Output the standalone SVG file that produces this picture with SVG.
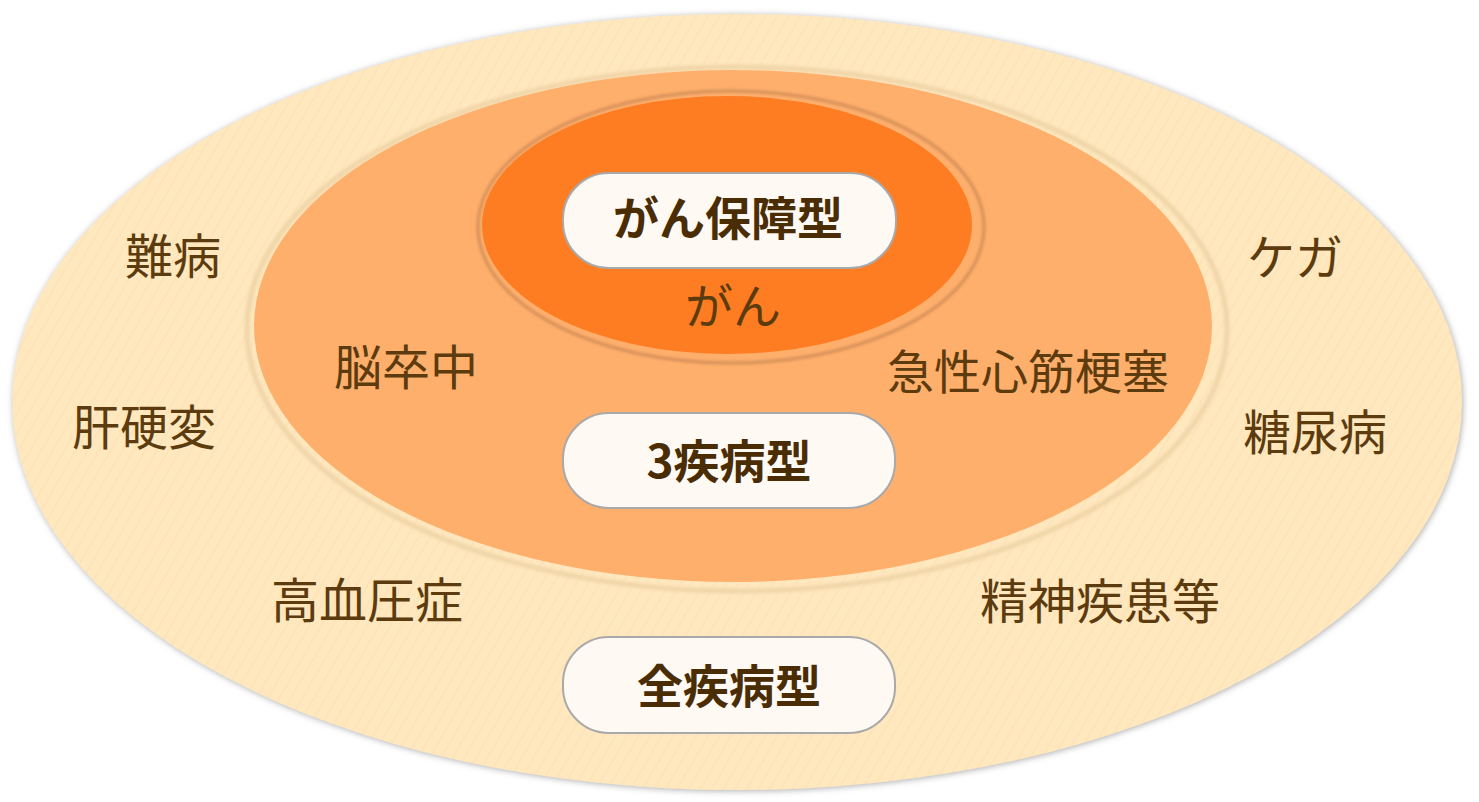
<svg xmlns="http://www.w3.org/2000/svg" width="1479" height="802" viewBox="0 0 1479 802">
<defs>
<filter id="shadow" x="-5%" y="-5%" width="110%" height="110%">
<feDropShadow dx="1" dy="1" stdDeviation="3" flood-color="#8a8a8a" flood-opacity="0.7"/>
</filter>
<filter id="blur1" x="-5%" y="-5%" width="110%" height="110%">
<feGaussianBlur stdDeviation="1.5"/>
</filter>
<pattern id="stripes" width="10" height="10" patternUnits="userSpaceOnUse" patternTransform="rotate(30)">
<rect width="10" height="10" fill="#FFE7BE"/>
<line x1="1" y1="0" x2="1" y2="10" stroke="#F7DDB0" stroke-width="1.5" opacity="0.4"/>
</pattern>
</defs>
<style>
.lbl{font-family:"Noto Sans CJK JP","Noto Sans CJK SC",sans-serif;font-size:48px;fill:#5C3B0E;text-anchor:middle}
.ttl{font-family:"Noto Sans CJK JP","Noto Sans CJK SC",sans-serif;font-size:46px;font-weight:bold;fill:#4A2D05;text-anchor:middle}
.pill{fill:#FFF9F4;stroke:#A9A9A9;stroke-width:2}
</style>
<rect width="1479" height="802" fill="#FFFFFF"/>
<g id="outer">
<ellipse cx="737" cy="402" rx="725" ry="388" fill="url(#stripes)" filter="url(#shadow)"/>
</g>
<g id="middle">
<ellipse cx="737" cy="329" rx="490" ry="262" fill="none" stroke="#F0D6A8" stroke-width="5" filter="url(#blur1)"/>
<ellipse cx="733" cy="326" rx="479" ry="256" fill="#FFAF6C"/>
</g>
<g id="inner">
<ellipse cx="731" cy="227" rx="253" ry="136" fill="none" stroke="#D38E57" stroke-width="3" filter="url(#blur1)"/>
<ellipse cx="727" cy="225" rx="245" ry="129" fill="#FF7D22"/>
</g>
<g id="labels">
<text class="lbl" x="173" y="274">難病</text>
<text class="lbl" x="1295" y="275">ケガ</text>
<text class="lbl" x="144" y="445">肝硬変</text>
<text class="lbl" x="1315" y="450">糖尿病</text>
<text class="lbl" x="406" y="385">脳卒中</text>
<text class="lbl" x="1028" y="389" style="font-size:47px">急性心筋梗塞</text>
<text class="lbl" x="367" y="618">高血圧症</text>
<text class="lbl" x="1100" y="619">精神疾患等</text>
<text class="lbl" x="733" y="324">がん</text>
</g>
<g id="node-gan">
<rect class="pill" x="563" y="173" width="333" height="95" rx="46"/>
<text class="ttl" x="728" y="235">がん保障型</text>
</g>
<g id="node-3">
<rect class="pill" x="563" y="413" width="332" height="95" rx="46"/>
<text class="ttl" x="729" y="478">3疾病型</text>
</g>
<g id="node-all">
<rect class="pill" x="563" y="637" width="332" height="96" rx="46"/>
<text class="ttl" x="729" y="703">全疾病型</text>
</g>
<g id="connectors"/>
</svg>
